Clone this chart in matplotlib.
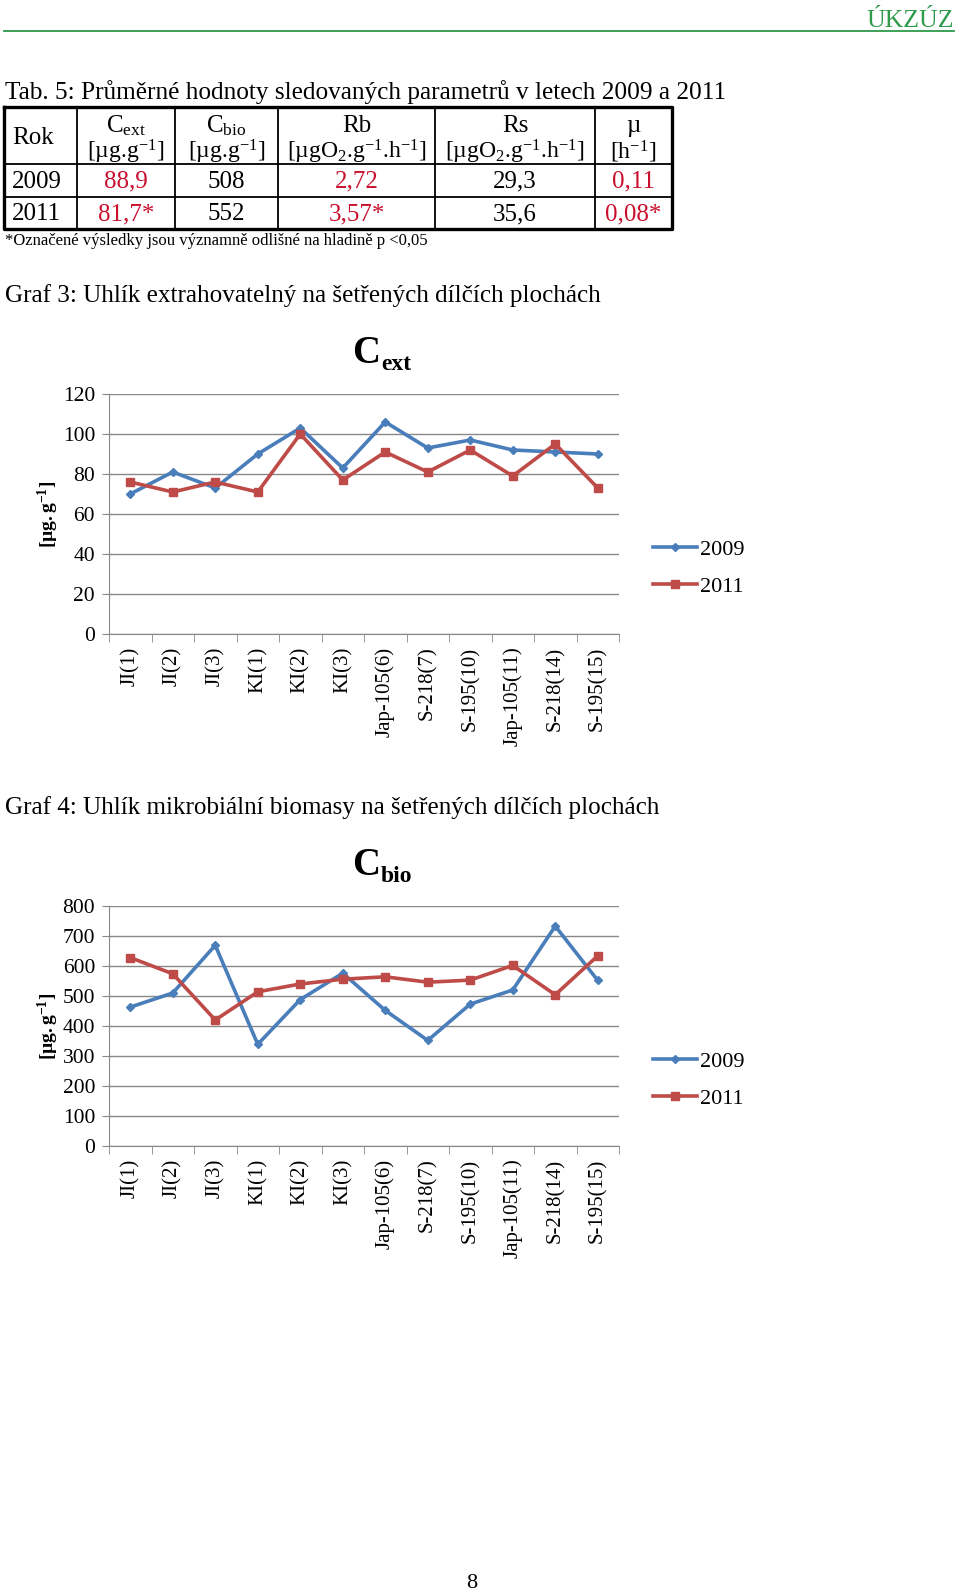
import numpy as np
import matplotlib
matplotlib.use("Agg")
import matplotlib.pyplot as plt

plt.rcParams['font.family'] = ['Liberation Serif', 'DejaVu Serif']
plt.rcParams['mathtext.fontset'] = 'custom'
plt.rcParams['mathtext.rm'] = 'Liberation Serif'
plt.rcParams['mathtext.it'] = 'Liberation Serif:italic'
plt.rcParams['mathtext.bf'] = 'Liberation Serif:bold'

# --- data ---
sites = ['JI(1)', 'JI(2)', 'JI(3)', 'KI(1)', 'KI(2)', 'KI(3)', 'Jap-105(6)',
         'S-218(7)', 'S-195(10)', 'Jap-105(11)', 'S-218(14)', 'S-195(15)']
cext_2009 = [70, 81, 73, 90, 103, 83, 106, 93, 97, 92, 91, 90]
cext_2011 = [76, 71, 76, 71, 100, 77, 91, 81, 92, 79, 95, 73]
cbio_2009 = [463, 510, 669, 339, 488, 576, 452, 352, 473, 520, 733, 552]
cbio_2011 = [628, 574, 420, 514, 540, 556, 564, 546, 553, 602, 504, 634]

tab_cols = ['Rok', r'C$_{\mathrm{ext}}$', r'C$_{\mathrm{bio}}$', 'Rb', 'Rs', 'µ']
tab_units = ['', r'[µg.g$^{-1}$]', r'[µg.g$^{-1}$]', r'[µgO$_{2}$.g$^{-1}$.h$^{-1}$]',
             r'[µgO$_{2}$.g$^{-1}$.h$^{-1}$]', r'[h$^{-1}$]']
tab_years = ['2009', '2011']
tab_vals = [['88,9', '508', '2,72', '29,3', '0,11'],
            ['81,7*', '552', '3,57*', '35,6', '0,08*']]
tab_red = [True, False, True, False, True]

W, H = 960, 1593
fig = plt.figure(figsize=(W / 100, H / 100), dpi=100)
page = fig.add_axes([0, 0, 1, 1])
page.set_xlim(0, W)
page.set_ylim(H, 0)
page.axis('off')

green = '#2e9a4a'
red_txt = '#c8102e'
blue = '#4a7ebb'
red = '#be4b48'
gray = '#888888'

# header
page.text(954, 21, 'ÚKZÚZ', color=green, fontsize=18.5, ha='right', va='center')
page.plot([4, 954], [31, 31], color=green, lw=1.3)

# table
page.text(5, 92, 'Tab. 5: Průměrné hodnoty sledovaných parametrů v letech 2009 a 2011',
          fontsize=18.2, va='center')
xs = [4, 77, 175, 278, 435, 595, 672]
ys = [107, 164, 197, 229]
for x in xs[1:-1]:
    page.plot([x, x], [ys[0], ys[-1]], color='black', lw=1.3)
for y in ys[1:-1]:
    page.plot([xs[0], xs[-1]], [y, y], color='black', lw=1.3)
page.plot([xs[0], xs[-1], xs[-1], xs[0], xs[0]], [ys[0], ys[0], ys[-1], ys[-1], ys[0]],
          color='black', lw=2.4)
page.text(12, 138, tab_cols[0], fontsize=18, va='center')
for i in range(1, 6):
    cx = (xs[i] + xs[i + 1]) / 2
    page.text(cx, 126, tab_cols[i], fontsize=18, ha='center', va='center')
    page.text(cx, 152, tab_units[i], fontsize=17, ha='center', va='center')
for r, yr in enumerate(tab_years):
    cy = (ys[r + 1] + ys[r + 2]) / 2 + 1
    page.text(12, cy, yr, fontsize=18, va='center')
    for i, v in enumerate(tab_vals[r]):
        cx = (xs[i + 1] + xs[i + 2]) / 2
        page.text(cx, cy, v, fontsize=18, ha='center', va='center',
                  color=red_txt if tab_red[i] else 'black')
page.text(5, 241, '*Označené výsledky jsou významně odlišné na hladině p <0,05',
          fontsize=12, va='center')

page.text(5, 296, 'Graf 3: Uhlík extrahovatelný na šetřených dílčích plochách',
          fontsize=18.1, va='center')
page.text(5, 808, 'Graf 4: Uhlík mikrobiální biomasy na šetřených dílčích plochách',
          fontsize=18.1, va='center')
page.text(472, 1584, '8', fontsize=16, ha='center', va='center')


def chart(top, bottom, ymax, step, s09, s11, sub, leg_y):
    ax = fig.add_axes([109 / W, 1 - bottom / H, 510 / W, (bottom - top) / H])
    x = np.arange(len(sites))
    ax.plot(x, s09, color=blue, lw=2.6, marker='D', ms=4.5, label='2009')
    ax.plot(x, s11, color=red, lw=2.6, marker='s', ms=6, label='2011')
    ax.set_xlim(-0.5, len(sites) - 0.5)
    ax.set_ylim(0, ymax)
    ax.set_yticks(np.arange(0, ymax + 1, step))
    ax.yaxis.grid(True, color=gray, lw=1)
    ax.set_axisbelow(True)
    for s in ['top', 'right']:
        ax.spines[s].set_visible(False)
    for s in ['left', 'bottom']:
        ax.spines[s].set_color(gray)
    ax.set_xticks(x)
    ax.set_xticklabels(sites, rotation=90, fontsize=15)
    ax.set_xticks(np.arange(-0.5, len(sites)), minor=True)
    ax.tick_params(axis='x', which='major', length=0, pad=9)
    ax.tick_params(axis='x', which='minor', length=6, color=gray, direction='out')
    ax.tick_params(axis='y', length=5, color=gray, labelsize=15.5, pad=5)
    ax.text(-0.118, 0.5, r'$\mathbf{[µg.g^{-1}]}$', transform=ax.transAxes,
            rotation=90, ha='center', va='center', fontsize=14)
    ax.legend(loc='center left', bbox_to_anchor=(633 / W, 1 - leg_y / H),
              bbox_transform=fig.transFigure, frameon=False, fontsize=16,
              handlelength=2.0, handletextpad=0.1, labelspacing=0.75)
    page.text(352, top - 31, 'C', fontsize=28, fontweight='bold', va='baseline')
    page.text(381, top - 24, sub, fontsize=17, fontweight='bold', va='baseline')
    return ax


chart(394, 634, 120, 20, cext_2009, cext_2011, 'ext', 568)
chart(906, 1146, 800, 100, cbio_2009, cbio_2011, 'bio', 1080)

fig.savefig('out.png', dpi=100)
